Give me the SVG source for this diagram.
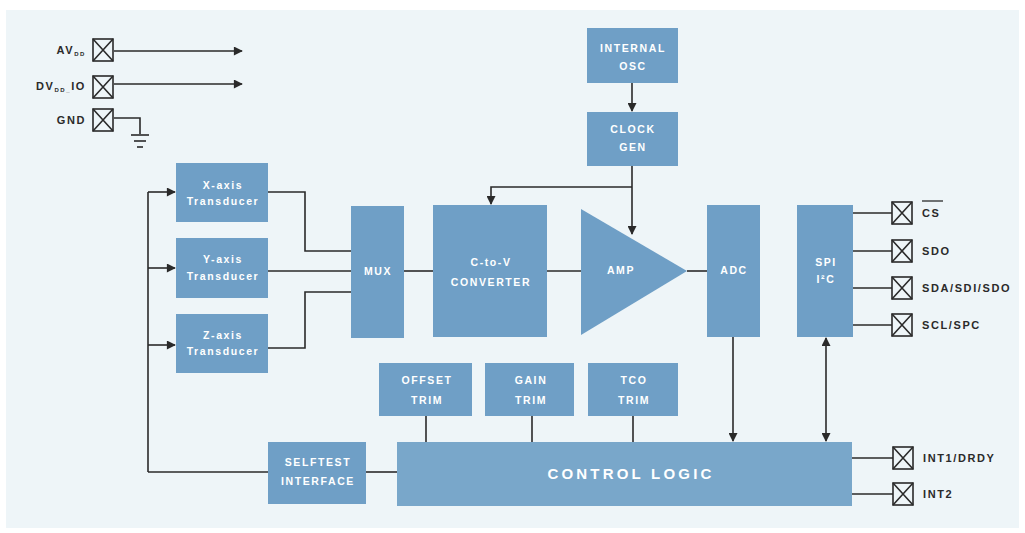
<svg xmlns="http://www.w3.org/2000/svg" width="1025" height="533" viewBox="0 0 1025 533">
<style>
.blk{fill:#6f9fc6}
.ctl{fill:#79a7ca}
.t{font-family:"Liberation Sans",Arial,sans-serif;font-weight:bold;font-size:10.5px;fill:#ffffff;text-anchor:middle;letter-spacing:1.6px}
.tl{font-family:"Liberation Sans",Arial,sans-serif;font-weight:bold;font-size:15px;fill:#ffffff;text-anchor:middle;letter-spacing:3.2px}
.p{font-family:"Liberation Sans",Arial,sans-serif;font-weight:bold;font-size:11px;fill:#2a2a2a;letter-spacing:1.6px}
.w{fill:none;stroke:#2a2a2a;stroke-width:1.6}
.pin{fill:none;stroke:#2a2a2a;stroke-width:1.6}
</style>
<defs>
<marker id="ahl" viewBox="0 0 10 10" refX="9" refY="5" markerWidth="10" markerHeight="9" orient="auto-start-reverse" markerUnits="userSpaceOnUse">
<path d="M0,0 L10,5 L0,10 z" fill="#2a2a2a"/>
</marker>
<g id="pinbox">
<rect x="-10" y="-11" width="20" height="22" class="pin"/>
<path d="M-10,-11 L10,11 M10,-11 L-10,11" class="pin"/>
</g>
</defs>
<rect x="0" y="0" width="1025" height="533" fill="#ffffff"/>
<rect x="6" y="10" width="1013" height="518" fill="#eef5f8"/>

<g id="connectors">
<line x1="114" y1="51" x2="242" y2="51" class="w" marker-end="url(#ahl)"/>
<line x1="114" y1="84" x2="242" y2="84" class="w" marker-end="url(#ahl)"/>
<polyline points="114,118 140,118 140,134" class="w"/>
<line x1="131" y1="135" x2="149" y2="135" class="w"/>
<line x1="134" y1="141" x2="146" y2="141" class="w"/>
<line x1="137" y1="147" x2="143" y2="147" class="w"/>
<line x1="632" y1="83" x2="632" y2="111" class="w" marker-end="url(#ahl)"/>
<line x1="632" y1="166" x2="632" y2="234" class="w" marker-end="url(#ahl)"/>
<polyline points="632,187 491,187 491,204" class="w" marker-end="url(#ahl)"/>
<line x1="148" y1="192" x2="148" y2="472" class="w"/>
<line x1="148" y1="192" x2="175" y2="192" class="w" marker-end="url(#ahl)"/>
<line x1="148" y1="268" x2="175" y2="268" class="w" marker-end="url(#ahl)"/>
<line x1="148" y1="345" x2="175" y2="345" class="w" marker-end="url(#ahl)"/>
<line x1="148" y1="472" x2="268" y2="472" class="w"/>
<polyline points="268,192 305,192 305,251 351,251" class="w"/>
<line x1="268" y1="271" x2="351" y2="271" class="w"/>
<polyline points="268,348 305,348 305,292 351,292" class="w"/>
<line x1="404" y1="271" x2="433" y2="271" class="w"/>
<line x1="547" y1="271" x2="581" y2="271" class="w"/>
<line x1="687" y1="271" x2="707" y2="271" class="w"/>
<line x1="853" y1="213" x2="892" y2="213" class="w"/>
<line x1="853" y1="251" x2="892" y2="251" class="w"/>
<line x1="853" y1="288" x2="892" y2="288" class="w"/>
<line x1="853" y1="325" x2="892" y2="325" class="w"/>
<line x1="426" y1="416" x2="426" y2="442" class="w"/>
<line x1="532" y1="416" x2="532" y2="442" class="w"/>
<line x1="633" y1="416" x2="633" y2="442" class="w"/>
<line x1="366" y1="472" x2="397" y2="472" class="w"/>
<line x1="733" y1="337" x2="733" y2="441" class="w" marker-end="url(#ahl)"/>
<line x1="826" y1="338" x2="826" y2="441" class="w" marker-start="url(#ahl)" marker-end="url(#ahl)"/>
<line x1="852" y1="458" x2="893" y2="458" class="w"/>
<line x1="852" y1="494" x2="893" y2="494" class="w"/>
</g>

<g id="pins">
<use href="#pinbox" x="103" y="50"/>
<use href="#pinbox" x="103" y="87"/>
<use href="#pinbox" x="103" y="120"/>
<text class="p" x="86" y="54" text-anchor="end" letter-spacing="0.5">AV<tspan font-size="6" dy="2">DD</tspan></text>
<text class="p" x="86" y="90" text-anchor="end" letter-spacing="0.5">DV<tspan font-size="6" dy="2">DD_</tspan><tspan dy="-2">IO</tspan></text>
<text class="p" x="86" y="124" text-anchor="end" letter-spacing="0.8">GND</text>
<use href="#pinbox" x="902" y="213"/>
<use href="#pinbox" x="902" y="251"/>
<use href="#pinbox" x="902" y="288"/>
<use href="#pinbox" x="902" y="325"/>
<text class="p" x="922" y="217">CS</text>
<line x1="922" y1="201" x2="943" y2="201" stroke="#2a2a2a" stroke-width="1.3"/>
<text class="p" x="922" y="255">SDO</text>
<text class="p" x="922" y="292">SDA/SDI/SDO</text>
<text class="p" x="922" y="329">SCL/SPC</text>
<use href="#pinbox" x="903" y="458"/>
<use href="#pinbox" x="903" y="494"/>
<text class="p" x="923" y="462">INT1/DRDY</text>
<text class="p" x="923" y="498">INT2</text>
</g>

<g id="osc"><rect class="blk" x="587" y="28" width="91" height="55"/><text class="t" x="633" y="52">INTERNAL</text><text class="t" x="633" y="70">OSC</text></g>
<g id="clock"><rect class="blk" x="587" y="112" width="91" height="54"/><text class="t" x="633" y="133">CLOCK</text><text class="t" x="633" y="151">GEN</text></g>
<g id="xaxis"><rect class="blk" x="176" y="163" width="92" height="59"/><text class="t" x="223" y="189">X-axis</text><text class="t" x="223" y="205">Transducer</text></g>
<g id="yaxis"><rect class="blk" x="176" y="238" width="92" height="60"/><text class="t" x="223" y="263">Y-axis</text><text class="t" x="223" y="280">Transducer</text></g>
<g id="zaxis"><rect class="blk" x="176" y="314" width="92" height="59"/><text class="t" x="223" y="339">Z-axis</text><text class="t" x="223" y="355">Transducer</text></g>
<g id="mux"><rect class="blk" x="351" y="206" width="53" height="132"/><text class="t" x="378" y="275">MUX</text></g>
<g id="ctov"><rect class="blk" x="433" y="205" width="114" height="132"/><text class="t" x="491" y="266">C-to-V</text><text class="t" x="491" y="286">CONVERTER</text></g>
<g id="amp"><polygon class="blk" points="581,209 687,271 581,335"/><text class="t" x="621" y="274">AMP</text></g>
<g id="adc"><rect class="blk" x="707" y="205" width="53" height="132"/><text class="t" x="734" y="274">ADC</text></g>
<g id="spi"><rect class="blk" x="797" y="205" width="56" height="132"/><text class="t" x="826" y="266">SPI</text><text class="t" x="826" y="283">I²C</text></g>
<g id="offset"><rect class="blk" x="379" y="363" width="93" height="53"/><text class="t" x="427" y="384">OFFSET</text><text class="t" x="427" y="404">TRIM</text></g>
<g id="gain"><rect class="blk" x="485" y="363" width="89" height="53"/><text class="t" x="531" y="384">GAIN</text><text class="t" x="531" y="404">TRIM</text></g>
<g id="tco"><rect class="blk" x="588" y="363" width="90" height="53"/><text class="t" x="634" y="384">TCO</text><text class="t" x="634" y="404">TRIM</text></g>
<g id="selftest"><rect class="blk" x="268" y="442" width="98" height="62"/><text class="t" x="318" y="466">SELFTEST</text><text class="t" x="318" y="485">INTERFACE</text></g>
<g id="control"><rect class="ctl" x="397" y="442" width="455" height="64"/><text class="tl" x="631" y="479">CONTROL LOGIC</text></g>
</svg>
